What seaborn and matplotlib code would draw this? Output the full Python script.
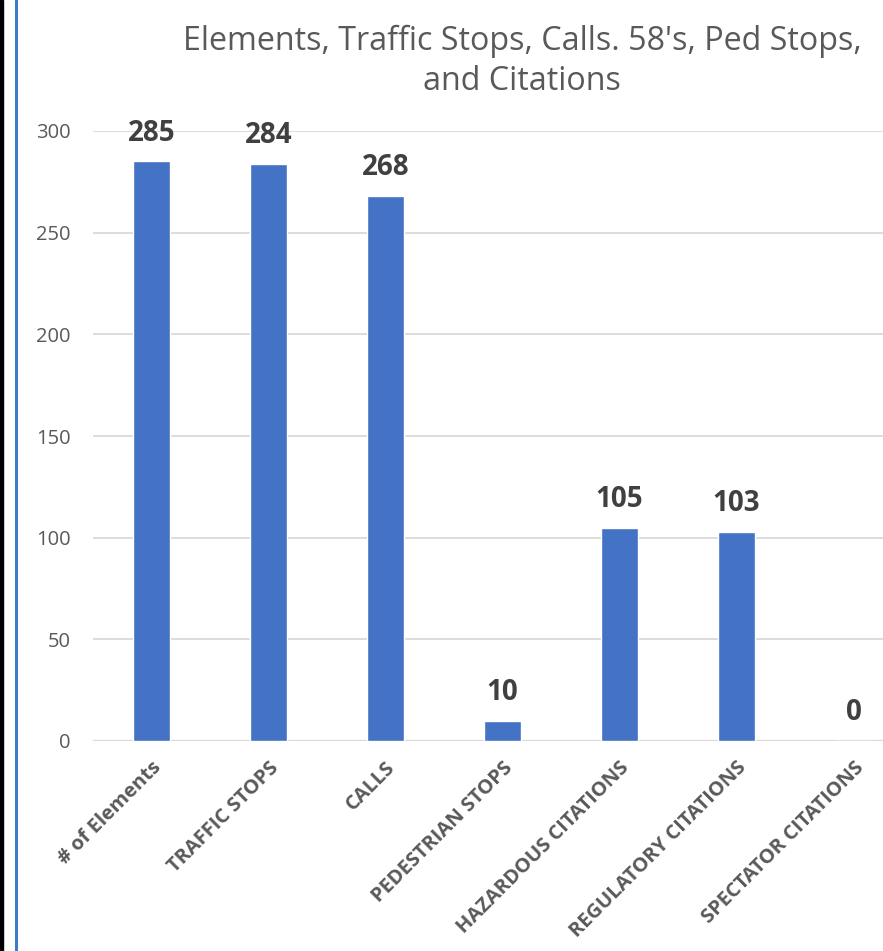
import matplotlib
matplotlib.use("Agg")
import matplotlib.pyplot as plt
import seaborn as sns
import pandas as pd
from matplotlib.lines import Line2D
from matplotlib.patches import Rectangle

categories = ["# of Elements", "TRAFFIC STOPS", "CALLS", "PEDESTRIAN STOPS",
              "HAZARDOUS CITATIONS", "REGULATORY CITATIONS", "SPECTATOR CITATIONS"]
counts = [285, 284, 268, 10, 105, 103, 0]
y_ticks = [0, 50, 100, 150, 200, 250, 300]

df = pd.DataFrame({"category": categories, "count": counts})

sns.set_theme(style="white")
plt.rcParams["font.family"] = ["Open Sans", "DejaVu Sans"]

W, H = 883, 951
fig = plt.figure(figsize=(W / 100, H / 100), dpi=100)
fig.patch.set_facecolor("white")

# plot area (extends slightly past the right edge of the canvas)
left, right, top, bottom = 93, 912, 131, 741
ax = fig.add_axes([left / W, 1 - bottom / H, (right - left) / W, (bottom - top) / H])

sns.barplot(data=df, x="category", y="count", color="#4472C4", saturation=1,
            width=0.31, ax=ax, zorder=3)

ax.set_ylim(0, 300)
ax.set_xlim(-0.5, len(categories) - 0.5)
ax.set_yticks(y_ticks)
ax.set_yticklabels([str(v) for v in y_ticks], fontsize=14.5, color="#595959")
ax.tick_params(axis="y", length=0, pad=16)
ax.tick_params(axis="x", length=0)
ax.yaxis.grid(True, color="#D9D9D9", linewidth=1.3, zorder=0)
ax.set_axisbelow(True)
for s in ax.spines.values():
    s.set_visible(False)
ax.axhline(0, color="#D9D9D9", linewidth=1.6, zorder=2)
ax.set_xlabel("")
ax.set_ylabel("")

ax.set_xticks(range(len(categories)))
ax.set_xticklabels(categories, rotation=45, ha="right", va="top",
                   rotation_mode="anchor", fontsize=14.5, color="#595959",
                   fontweight="bold")
ax.tick_params(axis="x", pad=12)

for i, v in enumerate(counts):
    ax.annotate(str(v), (i, v), xytext=(0, 10), textcoords="offset points",
                ha="center", va="bottom", fontsize=20, fontweight="bold",
                color="#404040")

fig.text(522 / W, 1 - 61 / H,
         "Elements, Traffic Stops, Calls. 58's, Ped Stops,\nand Citations",
         ha="center", va="center", fontsize=23.2, color="#595959",
         linespacing=1.28)

# frame strips at the left edge
fig.add_artist(Rectangle((0, 0), 3 / W, 1, transform=fig.transFigure,
                         color="black", zorder=10))
fig.add_artist(Line2D([16 / W, 16 / W], [0, 1], transform=fig.transFigure,
                      color="#3E7CC9", linewidth=2.2, zorder=10))

fig.savefig("out.png", dpi=100, facecolor="white")
